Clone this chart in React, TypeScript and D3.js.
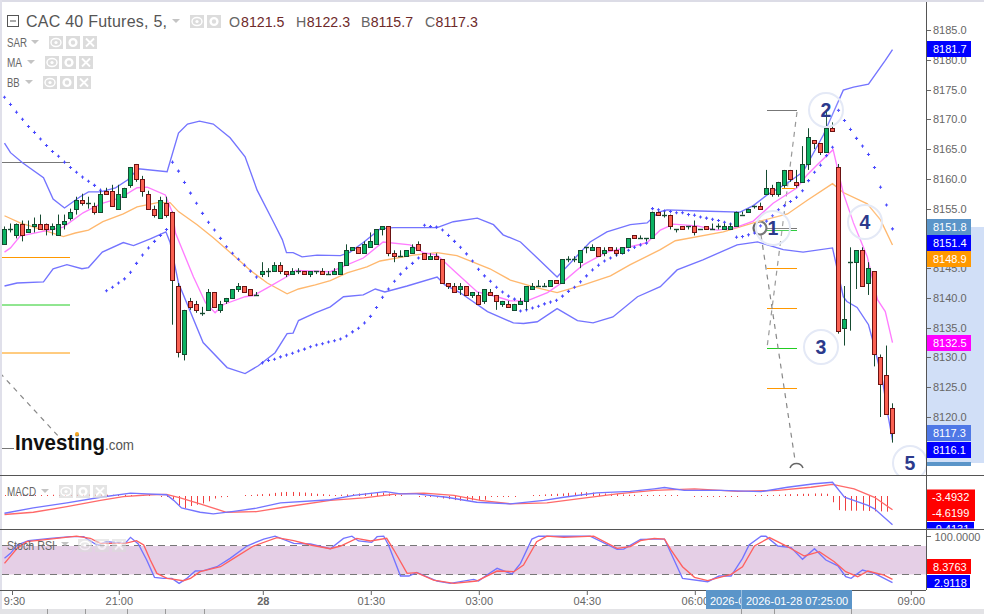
import React from "react";
import * as d3 from "d3";

// ---- data (prices are offsets from priceBase) ----
const priceBase = 8000;
// [open, high, low, close]
const candles: number[][] = [
[149,152,149,151.5],[151.5,152.5,151,151.5],[150.5,152.5,150,152.5],[152.5,153,149.5,150.5],[151,153,151,151.5],[152,153.5,151,152.5],[152.5,154,151.5,151.5],[152.5,152.5,150.5,151.5],[151.5,152.5,150.5,152],[150.5,154,150.5,152.5],
[152.5,154,151.5,153],[153.5,155,153,154.5],[155,157,154,156.5],[156.5,157.5,155.5,156],[156,157,155,156],[155.5,156,154,154.5],[154.5,158,154.5,157.5],[158,158.5,157.5,157.5],[158,159,155.5,155.5],[155,159,155,157.5],
[157,158.5,157,158.5],[159,162,158.5,162],[162.5,162.5,159.5,160],[160,160.5,157,158],[157.5,158,155,155],[155,155.5,153.5,154],[153.5,157,153.5,156.5],[156,157,153.5,154],[154.5,154.5,135.5,143],[142,142.5,130,131],
[130.5,138,129.5,138],[139.5,140,138,138.5],[139,139.5,137.5,138],[137.5,138.5,137,137.5],[138,141.5,138,141],[141,141,138.5,138.5],[138,139.5,137.5,139],[139.5,140,139,140],[140,141.5,140,141.5],[141.5,142.5,141,142],
[142,142,141,141],[141.5,141.5,140.5,140.5],[140.5,141,140.5,140.5],[144,146,143.5,144.5],[144.5,145,143.5,144.5],[144.5,146,144.5,145.5],[145.5,146,144,144.5],[144.5,144.5,143.5,144],[144,145,144,144.5],[144.5,145,144,144.5],
[144.5,144.5,144,144],[144,144.5,143.5,144.5],[144.5,144.5,144,144.5],[144.5,145,144,144],[144,144.5,144,144],[144,145,144,144.5],[144,146,144,146],[145.5,149,145.5,148],[148,148.5,148,148.5],[148.5,148.5,147.5,147.5],
[147.5,149.5,147.5,149],[148.5,151,148.5,149.5],[149,151.5,149,151.5],[151.5,152,150.5,152],[152,152,147,147.5],[147.5,148,146,147],[147,148,147,147],[147,148,147,148],[147.5,149,147.5,148.5],[149,149.5,148,148],
[147.5,147.5,146.5,146.5],[146.5,147.5,146.5,147],[147,147.5,146.5,146.5],[146.5,146.5,142.5,142.5],[142.5,142.5,141.5,142],[142,142.5,141,141],[141.5,142.5,140.5,142],[142,142,140.5,140.5],[140.5,141,140,141],[140.5,141,139,139],
[139.5,141.5,139,141.5],[141,141.5,140.5,140.5],[140.5,140.5,138,139.5],[139,139.5,138.5,139.5],[139,139.5,138.5,138.5],[138,139,138,139],[139,140,139,139.5],[139.5,142,138,142],[141.5,142.5,141.5,142],[142,143,142,142],
[142,142.5,142,142],[142,143,142,143],[143,143,142.5,142.5],[142.5,146.5,142.5,146.5],[146.5,147,146,146.5],[146.5,147,146,146.5],[146,148,145,148],[148.5,148.5,147.5,148.5],[148,149,148,148.5],[148.5,148.5,147,147],
[147.5,148.5,147,148],[148.5,148.5,148,148],[148,148.5,147,147.5],[147.5,148.5,147.5,148.5],[148.5,150,148.5,150],[150.5,150.5,150,150],[150,150.5,150,150],[150,150,149.5,150],[150,154.5,150,154.5],[154.5,154.5,154,154],
[154,154.5,153.5,154],[154,154,151.5,152],[151.5,151.5,151,151.5],[152,152,151.5,151.5],[152,152,151.5,152],[152,153,150.5,151],[151.5,151.5,151.5,151.5],[152,152,151.5,151.5],[151.5,152.5,151.5,151.5],[152,152.5,151.5,152],
[151.5,152.5,151.5,152],[151.5,152.5,151.5,152],[152,154.5,152,154.5],[154,154.5,154,154],[154.5,155,154.5,155],[155.5,155.5,155,155.5],[155.5,156,155,155],[157.5,161.5,157.5,158.5],[158.5,159,157,157.5],[157.5,159.5,157,159.5],
[159,161.5,158.5,161.5],[161.5,161.5,159.5,160],[159.5,161.5,158.5,159],[159.5,165.5,159.5,162.5],[162.5,168.5,161.5,167],[166.5,166.5,165,166],[166,166,164,164.5],[164.5,171.5,164.5,168.5],[168.5,169.5,168,168],[162,162.5,134,134.5],
[135,142,132,136.5],[146,148.5,134.5,146],[146,148,141.5,148],[148,148.5,142,142],[142.5,146,140.5,145],[144.5,144.5,128.5,130.5],[130,130.5,120,125.5],[127,132,120.5,120.5],[121.5,122.3,115.7,117.3],
];
// [bar, price]
const bbUpper: number[][] = [[0,166],[1,164.4],[3,162.7],[6.5,160.2],[8.1,156.6],[10,155.1],[12.6,157],[14,157.8],[16,157.8],[18.5,158.5],[20.5,159.8],[22.3,161.7],[27.1,161.2],[29,167.7],[30.5,169.2],[32.5,169.7],[34.8,169.2],[37.6,166.9],[40.1,163.7],[42.1,158.1],[44.8,152.8],[46.3,149.8],[47,147.6],[48.1,147.6],[49.6,146.9],[52.1,147.2],[56,147.1],[57.6,147.7],[59.8,149.3],[62.6,151.6],[64.8,151.8],[72.1,151.8],[74.8,152.8],[78.8,153.4],[81.5,152.3],[83.1,150.6],[86,149.4],[88.8,146.7],[92.1,143.5],[97.6,149.4],[100.4,151.1],[104.3,152.3],[107.1,152.6],[109,154.4],[110.4,154.8],[115.9,154.6],[122.6,154.4],[124.8,155.5],[127.1,157.3],[130.5,159.3],[133.1,161.2],[136.5,167.4],[139.8,174.9],[141.5,175.4],[144,175.9],[146.8,179.9],[148,181.7]];
const bbLower: number[][] = [[0,142],[2.1,142.5],[6.5,142.7],[8.1,144.9],[10.4,145.6],[12.9,144.9],[14,145.1],[16.3,147.7],[19.8,149.3],[21.5,148.8],[24.3,149.9],[26.9,151.1],[27.6,149.3],[29,142.5],[33.1,132.5],[37.1,128.3],[40.1,127.3],[42.3,128.6],[45.1,130.8],[47.1,134],[48.1,134.1],[49,136.2],[51.8,137.5],[54.3,138.5],[56.5,140.2],[59.8,140.5],[61.8,141.5],[63.4,141],[67.1,142],[72.1,143.5],[73.4,142.2],[75.9,140.9],[80.5,137.7],[84.8,135.8],[86.5,135.7],[88.8,136],[92.1,138.2],[95.5,136.2],[98.1,135.8],[101.4,136.8],[105.5,140.2],[109.3,141.9],[112.1,144.7],[116.4,146.4],[122.1,148.9],[125.5,149.4],[129.8,148.1],[133.1,147.7],[138,148.4],[139.8,140.2],[140.4,139.4],[142.1,138.4],[144,135.5],[144.8,132.5],[146.3,126.3],[147.3,120],[148,116.1]];
const maSlow: number[][] = [[0,153.8],[2.6,152.6],[6.5,151.4],[9.8,150.3],[11.8,150.9],[14,151.4],[16.4,152.8],[19.8,154.1],[22.1,155.3],[25.5,156],[27.6,156],[29,154.5],[32.1,152.3],[34.8,150.1],[38.1,147.2],[41,144.6],[43.8,142.5],[47.1,140.7],[49,141.5],[51.8,142.2],[54.3,142.9],[57.1,144.2],[60.4,145.2],[62.6,146.2],[68.1,147.2],[72.1,147.6],[75.4,147.1],[80.9,144.9],[84.3,143],[88.8,141.7],[92.1,140.9],[96.5,142.2],[101,143.7],[104.3,145.6],[109.3,148.1],[111.8,149.6],[119.8,151.1],[124.8,152.6],[130.5,154.1],[133.8,156.4],[138,159.2],[139.8,157.7],[143.8,155.8],[146,153.1],[148,148.9]];
const maFast: number[][] = [[0,147.7],[1,148.4],[2.6,150.4],[9.8,151.9],[13.1,154.3],[16,155.8],[19.3,156.8],[22.1,158.5],[23.8,158.6],[26.8,157.3],[28,154.3],[28.5,150.9],[31.5,143.5],[33.5,139.2],[35.1,137.5],[36.5,138.9],[40.1,140.2],[41.5,140.4],[43.8,141.7],[47.1,143.6],[48.5,144.6],[54.3,144.4],[56,145.1],[59.8,146.7],[63.1,149.4],[67.6,148.9],[69.8,147.6],[72.1,147.2],[75.1,144.4],[78.8,141],[82.1,140.2],[84.3,139.5],[87.1,139.5],[90.5,140.9],[93.1,142.7],[96.5,145.6],[100.4,147.7],[104.3,148.6],[107.1,149.3],[109.3,151.4],[111.5,152.4],[115.4,152.1],[118.8,151.4],[121.8,151.8],[124.8,152.9],[128.1,155.9],[132.1,158.5],[133.8,160.7],[135.5,162.4],[138.1,164.9],[139.8,157.6],[141.5,152.6],[143.8,146.9],[145.5,139.7],[146.8,137.7],[148,132.5]];
const sarValues: number[] = [173.7,172.5,171.2,170,168.8,167.8,166.7,165.6,164.6,163.8,162.8,161.9,161.1,160.3,159.6,158.9,158.1,
141.2,141.8,142.5,143.2,144.3,145.8,147.2,148.4,149.5,150.5,151.5,
162.8,161.3,159.4,157.6,155.9,154.2,152.7,151.4,150,148.6,147.5,146.5,145.5,144.5,143.5,
129.1,129.5,129.7,130.1,130.4,130.7,131.1,131.4,131.8,132.1,132.3,132.6,
132.8,133.1,133.6,134.3,134.9,135.8,136.9,138.4,140.1,141.5,142.8,144,145,145.8,146.7,
152.2,152,151.9,151.4,150.5,149.5,148.5,147.4,146.2,144.8,143.7,142.8,141.8,141,140.3,139.8,
137.8,138,138.3,138.6,139,139.3,139.6,140.3,141.1,141.8,142.7,143.7,144.7,145.5,146.2,146.7,147.2,147.5,148,148.5,148.9,149.2,
155,154.8,154.6,154.5,154.3,154.3,154,153.9,153.6,153.4,153.2,153,152.7,152.4,
150.2,150.3,150.6,150.9,152.1,152.9,153.8,154.8,155.5,156.2,156.9,158,159.7,161.1,162.3,163.9,165.3,
171.5,169.8,168.3,166.8,165.5,164.1,161.9,158.6,155.6,151.6];
const macdLine: number[][] = [[0,-5.5],[4.8,-3.8],[10.4,-2.2],[16,-.4],[21,.9],[23.7,.7],[27,.4],[28.2,-1.4],[29.5,-3.8],[32.6,-5.2],[34.8,-5.7],[38.2,-4.9],[42,-3.9],[46,-2.2],[54.3,-1.2],[58.2,.2],[63.5,1.4],[66,.7],[68.7,.7],[73.7,-.4],[78.7,-2],[84.3,-2.5],[89.9,-1.4],[93.2,-.4],[98.7,1],[104.3,1.5],[108.3,2.3],[110,2.7],[113.3,1.8],[119.4,1.8],[126.1,1.4],[130.5,2.8],[135,3.9],[138,4.4],[140,-.4],[143.9,-3],[145,-4.1],[148,-9.2]];
const macdSignal: number[][] = [[0,-5.9],[4.8,-5.2],[10.4,-3.4],[16,-1.4],[19.8,-.2],[24.3,.4],[27,.5],[29.3,-.6],[32.6,-2.5],[37,-5.2],[42,-5],[46.5,-3.6],[54.3,-1.4],[59.9,-.6],[65.4,.7],[69.9,.9],[74.9,.2],[79.3,-1.4],[84.3,-2.5],[90.4,-2.2],[96.5,-.7],[102.1,.7],[108.3,1.8],[115,2.3],[122.2,1.5],[128.9,1.8],[134.4,2.8],[138,3.7],[141.6,2.3],[145,-.4],[148,-4.4]];
const macdHist: number[] = [.1,.2,.2,.3,.3,.3,.3,.3,.4,.3,.3,.3,.4,.4,.5,.5,.5,.4,.4,.4,.4,.3,.2,.2,.1,0,-.1,-.2,-1,-3,-3.9,-3.2,-2.8,-2.4,-1.7,-.8,-.4,-.2,0,0,.3,.3,.5,.6,.7,1,1.2,1.3,1.3,1.2,1.1,.9,.7,.6,.4,.3,.4,.5,.6,.8,.9,1,1.2,1.1,.8,.4,.2,0,0,-.1,-.2,-.3,-.5,-.8,-1,-1.3,-1.5,-1.5,-1.4,-1.4,-1.2,-.3,-.2,-.2,-.1,-.1,0,0,.1,.2,.5,.6,.7,.8,1,1.1,1.2,1.2,1.1,.8,.8,.7,.6,.5,.4,.4,.3,.3,.3,.2,.1,.1,.1,0,0,-.1,-.2,-.2,-.2,-.1,-.1,-.1,-.1,0,0,.1,.2,.3,.3,.4,.5,.6,.6,.7,.7,.8,.8,.7,-2,-4.5,-4.7,-4.7,-4.7,-4.7,-4.8,-4.9,-4.9,-5];
const stochK: number[][] = [[0,53.6],[1,64],[2.1,81.5],[4,90.6],[7.6,95.5],[11,99],[13.2,99],[15.4,81.5],[17,88.5],[20.1,85],[21,97.6],[22.3,83.6],[23.7,50],[25,13.7],[26.5,11.6],[27.9,11.6],[29.1,1],[30.4,11.6],[31.8,27],[33.2,27.7],[35.4,36],[37.6,53.6],[40.4,79.4],[43.2,94],[45.1,100],[48.2,85],[51,83.6],[54.3,73.8],[56.5,95.5],[57.9,100],[59,90],[61.2,87],[62.1,99],[63.2,100],[64,81.5],[66,16.5],[67.4,16.5],[68.7,24],[72.1,6],[74.3,1],[78.2,9.5],[79,6],[80.4,18.6],[82.1,32.6],[84.6,20.7],[86,43],[87.9,94],[89,100],[97.6,100],[102.1,72.4],[103.2,73],[106,93.4],[108.3,94],[110,94],[113,11.6],[117.2,4.6],[119.1,16.5],[121.1,16.5],[123,53.6],[124.1,81.5],[126.1,100],[126.9,100],[128.9,79.4],[131.1,76],[133,51.5],[135,73.8],[136.9,50],[138.9,38],[140.2,15],[141.1,11.6],[143,29],[145,22],[148,2.5]];
const stochD: number[][] = [[0,43],[2.1,74.5],[3.7,88.5],[7.6,94],[12,100],[14.3,95.5],[16,85],[20.1,85],[22,90.6],[23.2,81.5],[24.3,50],[25.4,22],[27.1,11.6],[29.8,6.7],[31,11.6],[32.6,25.6],[36,36],[38.2,53.6],[41.5,79.4],[45.4,97],[48.2,90.6],[51,81.5],[54.3,73.8],[56,79.4],[58.7,95.5],[61,90],[63.7,95.5],[64.9,71],[67.1,22],[68.7,23.5],[71.5,8],[74.9,1],[78.7,6],[82.1,27],[84.9,25.6],[86.5,39.6],[88.7,88.5],[90.4,100],[93.2,97.6],[98.2,100],[102.1,74.5],[104.3,78],[106,90.6],[108.3,95.5],[110,94],[111.1,71],[113,36],[115,13.7],[117.2,6.8],[121.1,20],[123,36],[125,79.4],[127.5,97],[130,81.5],[133.3,58.5],[135.8,67.5],[138.3,46.6],[140.2,25.6],[142.2,15],[143.9,27],[146.6,18.6],[148,9.5]];
const priceTicks = [8185,8180,8175,8170,8165,8160,8155,8150,8145,8140,8135,8130,8125,8120];
const timeTicks: [number,string,boolean,number][] = [[1.2,"9:30",false,2],[19,"21:00",false,0],[43,"28",true,0],[61,"01:30",false,0],[79,"03:00",false,0],[97,"04:30",false,0],[115,"06:00",false,0],[151,"09:00",false,0]];
const priceLabels: [string,number,string][] = [["8181.7",49,"#0000ff"],["8151.8",227,"#5b95c9"],["8151.4",243,"#0000ff"],["8148.9",259,"#ff9800"],["8132.5",343,"#ff00ff"],["8117.3",433,"#4f78e6"],["8116.1",450,"#0000ff"],["",470,"#5b95c9"]];
const fibRight: [number,string][] = [[110,"#777"],[228,"#777"],[229.5,"#2ecc40"],[188,"#ff9800"],[268,"#ff9800"],[308,"#ff9800"],[348,"#22cc22"],[388,"#ff9800"]];
const fibLeft: [number,string][] = [[162,"#777"],[257,"#ff9800"],[304.5,"#22cc22"],[352.5,"#ff9800"]];
const waves: [string,number,number][] = [["1",773,228],["2",826,110],["3",821,347],["4",865,222],["5",910,463]];
const legendRows: [string,number,number,number][] = [["SAR",42,49,20],["MA",62,45,15],["BB",82,43,12.7]];
const ohlcLetters: [string,number][] = [["O",229],["H",296],["B",361],["C",425]];
const ohlcValues: [string,number][] = [["8121.5",241],["8122.3",306.7],["8115.7",370.7],["8117.3",435.5]];
const stripMarks = [47,85,127,165,204,741,774,851];

// ---- scales ----
const x = d3.scaleLinear().domain([0,148]).range([4.5,892.5]);
const y = d3.scaleLinear().domain([8120,8185]).range([417,30]);
const py = (p:number)=>y(p+priceBase);
const yMacd = d3.scaleLinear().domain([-10,5]).range([496+31.3,496-15.65]);
const yStoch = d3.scaleLinear().domain([0,100]).range([583.9,536.2]);

const SANS = "'Liberation Sans', Arial, sans-serif";
const lineOf = (ys:(v:number)=>number)=>d3.line<number[]>().x(d=>x(d[0])).y(d=>ys(d[1]));

function IconBox({bx,by,kind,opacity=1}:{bx:number,by:number,kind:string,opacity?:number}){
  return <g opacity={opacity}>
    <rect x={bx} y={by} width={14} height={13} fill="#dcdcdc"/>
    {kind==="eye"&&<><ellipse cx={bx+7} cy={by+6.5} rx={5} ry={4} fill="none" stroke="#fff" strokeWidth={1.4}/><circle cx={bx+7} cy={by+6.5} r={1.6} fill="#fff"/></>}
    {kind==="gear"&&<circle cx={bx+7} cy={by+6.5} r={3.4} fill="none" stroke="#fff" strokeWidth={2.4}/>}
    {kind==="x"&&<path d={`M${bx+3} ${by+2.5}L${bx+11} ${by+10.5}M${bx+11} ${by+2.5}L${bx+3} ${by+10.5}`} stroke="#fff" strokeWidth={1.8}/>}
  </g>;
}
function Icons({bx,by,three=true,opacity=1}:{bx:number,by:number,three?:boolean,opacity?:number}){
  return <>
    <IconBox bx={bx} by={by} kind="eye" opacity={opacity}/>
    <IconBox bx={bx+17} by={by} kind="gear" opacity={opacity}/>
    {three&&<IconBox bx={bx+34} by={by} kind="x" opacity={opacity}/>}
  </>;
}
const Caret=({cx,cy}:{cx:number,cy:number})=><path d={`M${cx-4} ${cy-2}h8l-4 4z`} fill="#c4c4c4"/>;
const Narrow=({tx,ty,len,t}:{tx:number,ty:number,len:number,t:string})=>
  <text x={tx} y={ty} fontSize={12.5} fill="#666" textLength={len} lengthAdjust="spacingAndGlyphs">{t}</text>;

export default function App(){
  document.body.style.margin="0";
  const sarPath = d3.symbol().type(d3.symbolCross).size(5.5)();
  const lineBlue = "#7474ff";
  const lw = 1.35;
  return (
    <svg width={984} height={614} style={{display:"block",position:"absolute",left:0,top:0,background:"#fff"}} fontFamily={SANS}>
      <defs>
        <clipPath id="main"><rect x={2} y={2} width={924} height={473}/></clipPath>
        <clipPath id="macdAxis"><rect x={926} y={522} width={48} height={6.5}/></clipPath>
        <clipPath id="dateClip"><rect x={706} y={590} width={35} height={19}/></clipPath>
      </defs>
      {/* frame */}
      <rect x={0} y={0} width={984} height={2} fill="#dcdce6"/>
      <rect x={0} y={0} width={2} height={609} fill="#e0e0ea"/>
      <rect x={926} y={227} width={58} height={236} fill="#d1dff7"/>
      <rect x={0} y={609} width={984} height={5} fill="#e3e3e6"/>
      {stripMarks.map(m=><line key={m} x1={m+.5} x2={m+.5} y1={609} y2={614} stroke="#9a9a9a"/>)}

      {/* price axis */}
      {priceTicks.map(t=><g key={t}>
        <line x1={926} x2={931} y1={Math.round(y(t))+.5} y2={Math.round(y(t))+.5} stroke="#666"/>
        <text x={933} y={y(t)+4} fontSize={11} fill="#666">{t.toFixed(1)}</text>
      </g>)}

      <g clipPath="url(#main)">
        {/* level lines */}
        {fibLeft.map(([v,c],i)=><line key={i} x1={2} x2={70} y1={v+.5} y2={v+.5} stroke={c}/>)}
        <line x1={2} x2={14} y1={448.5} y2={448.5} stroke="#777"/>
        <line x1={0} y1={373} x2={60} y2={438} stroke="#888" strokeWidth={1.2} strokeDasharray="5 5"/>
        {fibRight.map(([v,c],i)=><line key={i} x1={v===188?782:767} x2={797} y1={Math.round(v)+.5} y2={Math.round(v)+.5} stroke={c}/>)}
        <path d="M797 112L767 348" stroke="#999" fill="none" strokeWidth={1.2} strokeDasharray="5 5"/>
        <path d="M761 235L795 460" stroke="#888" fill="none" strokeWidth={1.2} strokeDasharray="5 5"/>
        <path d="M790 468A7 7 0 0 1 803 468" stroke="#666" fill="none" strokeWidth={1.5}/>
        <circle cx={760} cy={228} r={6.5} fill="none" stroke="#666" strokeWidth={2.2}/>

        {/* BB and MA lines */}
        <path d={lineOf(py)(bbUpper)!} fill="none" stroke={lineBlue} strokeWidth={lw}/>
        <path d={lineOf(py)(bbLower)!} fill="none" stroke={lineBlue} strokeWidth={lw}/>
        <path d={lineOf(py)(maSlow)!} fill="none" stroke="#ffb86e" strokeWidth={lw}/>
        <path d={lineOf(py)(maFast)!} fill="none" stroke="#ff7cff" strokeWidth={lw}/>

        {/* SAR */}
        {sarValues.map((v,i)=><path key={i} d={sarPath!} transform={`translate(${x(i)},${py(v)})`} fill="#4a4aff"/>)}

        {/* candles */}
        {candles.map(([o,h,l,c],i)=>{
          const cx=x(i);
          const up=c>o;
          const top=Math.round(py(Math.max(o,c)))+.5;
          const bot=Math.round(py(Math.min(o,c)))+.5;
          const doji=bot-top<1.5;
          const stroke=up||o===c?"#154a30":"#6b1212";
          return <g key={i}>
            <line x1={cx} x2={cx} y1={py(h)} y2={py(l)} stroke="#154a30"/>
            {doji
              ? <line x1={cx-2.5} x2={cx+2.5} y1={top} y2={top} stroke={stroke} strokeWidth={1.4}/>
              : <rect x={cx-2} y={top} width={4} height={bot-top} fill={up?"#0bb262":"#fb6152"} stroke={stroke}/>}
          </g>;
        })}

        {/* wave annotations */}
        {waves.map(([t,cx,cy])=><g key={t}>
          <circle cx={cx} cy={cy} r={17} fill="#fff" fillOpacity={.12} stroke="#e4e9f6" strokeWidth={2}/>
          <text x={cx} y={cy+7} textAnchor="middle" fontSize={19.5} fontWeight={700} fill="#2c3a8c">{t}</text>
        </g>)}
      </g>

      {/* price labels */}
      {priceLabels.map(([t,cy,c],i)=><g key={i}>
        {t
          ? <><rect x={926} y={cy-8} width={45} height={16} fill={c}/><text x={933} y={cy+4} fontSize={11} fill="#fff">{t}</text></>
          : <rect x={926} y={462} width={45} height={4} fill={c}/>}
      </g>)}

      {/* logo */}
      <text x={15} y={450} fontSize={22} fontWeight={700} fill="#111" textLength={90} lengthAdjust="spacingAndGlyphs">Investing</text>
      <circle cx={77} cy={434} r={2} fill="#f5a623"/>
      <text x={105} y={450} fontSize={15} fill="#555" textLength={29} lengthAdjust="spacingAndGlyphs">.com</text>

      {/* header */}
      <rect x={7.5} y={15.5} width={11} height={11} fill="none" stroke="#555"/>
      <line x1={10} x2={16} y1={21} y2={21} stroke="#555"/>
      <text x={26} y={27} fontSize={16} fill="#555" textLength={141}>CAC 40 Futures, 5,</text>
      <Caret cx={176} cy={21}/>
      <IconBox bx={190} by={15} kind="eye"/><IconBox bx={207} by={15} kind="gear"/>
      {ohlcLetters.map(([t,tx])=><text key={t} x={tx} y={26.5} fontSize={14.2} fill="#666">{t}</text>)}
      {ohlcValues.map(([t,tx])=><text key={t} x={tx} y={26.5} fontSize={14.2} fill="#6e2a2a">{t}</text>)}
      {legendRows.map(([t,ty,bx,len])=><g key={t}>
        <Narrow tx={7} ty={ty+4.5} len={len} t={t}/>
        <Caret cx={bx-14} cy={ty}/>
        <Icons bx={bx} by={ty-6}/>
      </g>)}

      {/* MACD pane */}
      <line x1={0} x2={984} y1={475.5} y2={475.5} stroke="#555"/>
      {macdHist.map((v,i)=><line key={i} x1={Math.round(x(i))+.5} x2={Math.round(x(i))+.5} y1={yMacd(0)} y2={v===0?yMacd(0):yMacd(0)-Math.sign(v)*Math.max(1,Math.abs(yMacd(v)-yMacd(0)))} stroke="#f04040"/>)}
      <path d={lineOf(yMacd)(macdSignal)!} fill="none" stroke="#ff6a6a" strokeWidth={lw}/>
      <path d={lineOf(yMacd)(macdLine)!} fill="none" stroke={lineBlue} strokeWidth={lw}/>
      <Narrow tx={7} ty={495.5} len={29} t="MACD"/>
      <Caret cx={45} cy={491}/>
      <Icons bx={59} by={485} opacity={.75}/>
      <rect x={926} y={522} width={48} height={6.5} fill="#0000ff"/>
      <g clipPath="url(#macdAxis)"><text x={932} y={533} fontSize={11} fill="#fff">-9.4131</text></g>
      <rect x={926} y={489.5} width={49} height={31.5} fill="#ff0000"/>
      <text x={932} y={501} fontSize={11} fill="#fff">-3.4932</text>
      <text x={932} y={517} fontSize={11} fill="#fff">-4.6199</text>

      {/* Stoch RSI pane */}
      <line x1={0} x2={984} y1={529.5} y2={529.5} stroke="#555"/>
      <rect x={2} y={546} width={924} height={28.5} fill="#e5cfe6"/>
      <line x1={2} x2={926} y1={545.5} y2={545.5} stroke="#777" strokeDasharray="7 5"/>
      <line x1={2} x2={926} y1={574.5} y2={574.5} stroke="#777" strokeDasharray="7 5"/>
      <path d={lineOf(yStoch)(stochK)!} fill="none" stroke={lineBlue} strokeWidth={lw}/>
      <path d={lineOf(yStoch)(stochD)!} fill="none" stroke="#ff6060" strokeWidth={lw}/>
      <Narrow tx={7} ty={549.5} len={48} t="Stoch RSI"/>
      <Caret cx={65} cy={544}/>
      <Icons bx={78} by={539} opacity={.6}/>
      <line x1={926} x2={931} y1={536.5} y2={536.5} stroke="#666"/>
      <text x={934.5} y={541} fontSize={11} fill="#666">100.0000</text>
      <rect x={926} y={559} width={45} height={15} fill="#ff0000"/>
      <text x={933} y={570.5} fontSize={11} fill="#fff">8.3763</text>
      <rect x={926} y={575} width={44} height={13} fill="#0000ff"/>
      <text x={934} y={586.5} fontSize={11} fill="#fff">2.9118</text>

      {/* axis lines */}
      <line x1={926.5} x2={926.5} y1={2} y2={590} stroke="#555"/>
      <line x1={0} x2={926} y1={590.5} y2={590.5} stroke="#555"/>
      {timeTicks.map(([b,t,bold,dx])=>{
        const tx=x(b)+.8;
        return <g key={t}>
          <line x1={tx} x2={tx} y1={590} y2={595} stroke="#666"/>
          <text x={tx+dx} y={605} textAnchor="middle" fontSize={11} fontWeight={bold?700:400} fill="#666">{t}</text>
        </g>;
      })}
      {/* crosshair date */}
      <rect x={706} y={590} width={146} height={19} fill="#5b95c9"/>
      <g clipPath="url(#dateClip)"><text x={710} y={604.5} fontSize={11} fill="#fff">2026-0</text></g>
      <line x1={741.5} x2={741.5} y1={590} y2={609} stroke="#9cc0e0"/>
      <text x={746} y={604.5} fontSize={11} fill="#fff">2026-01-28 07:25:00</text>
    </svg>
  );
}
